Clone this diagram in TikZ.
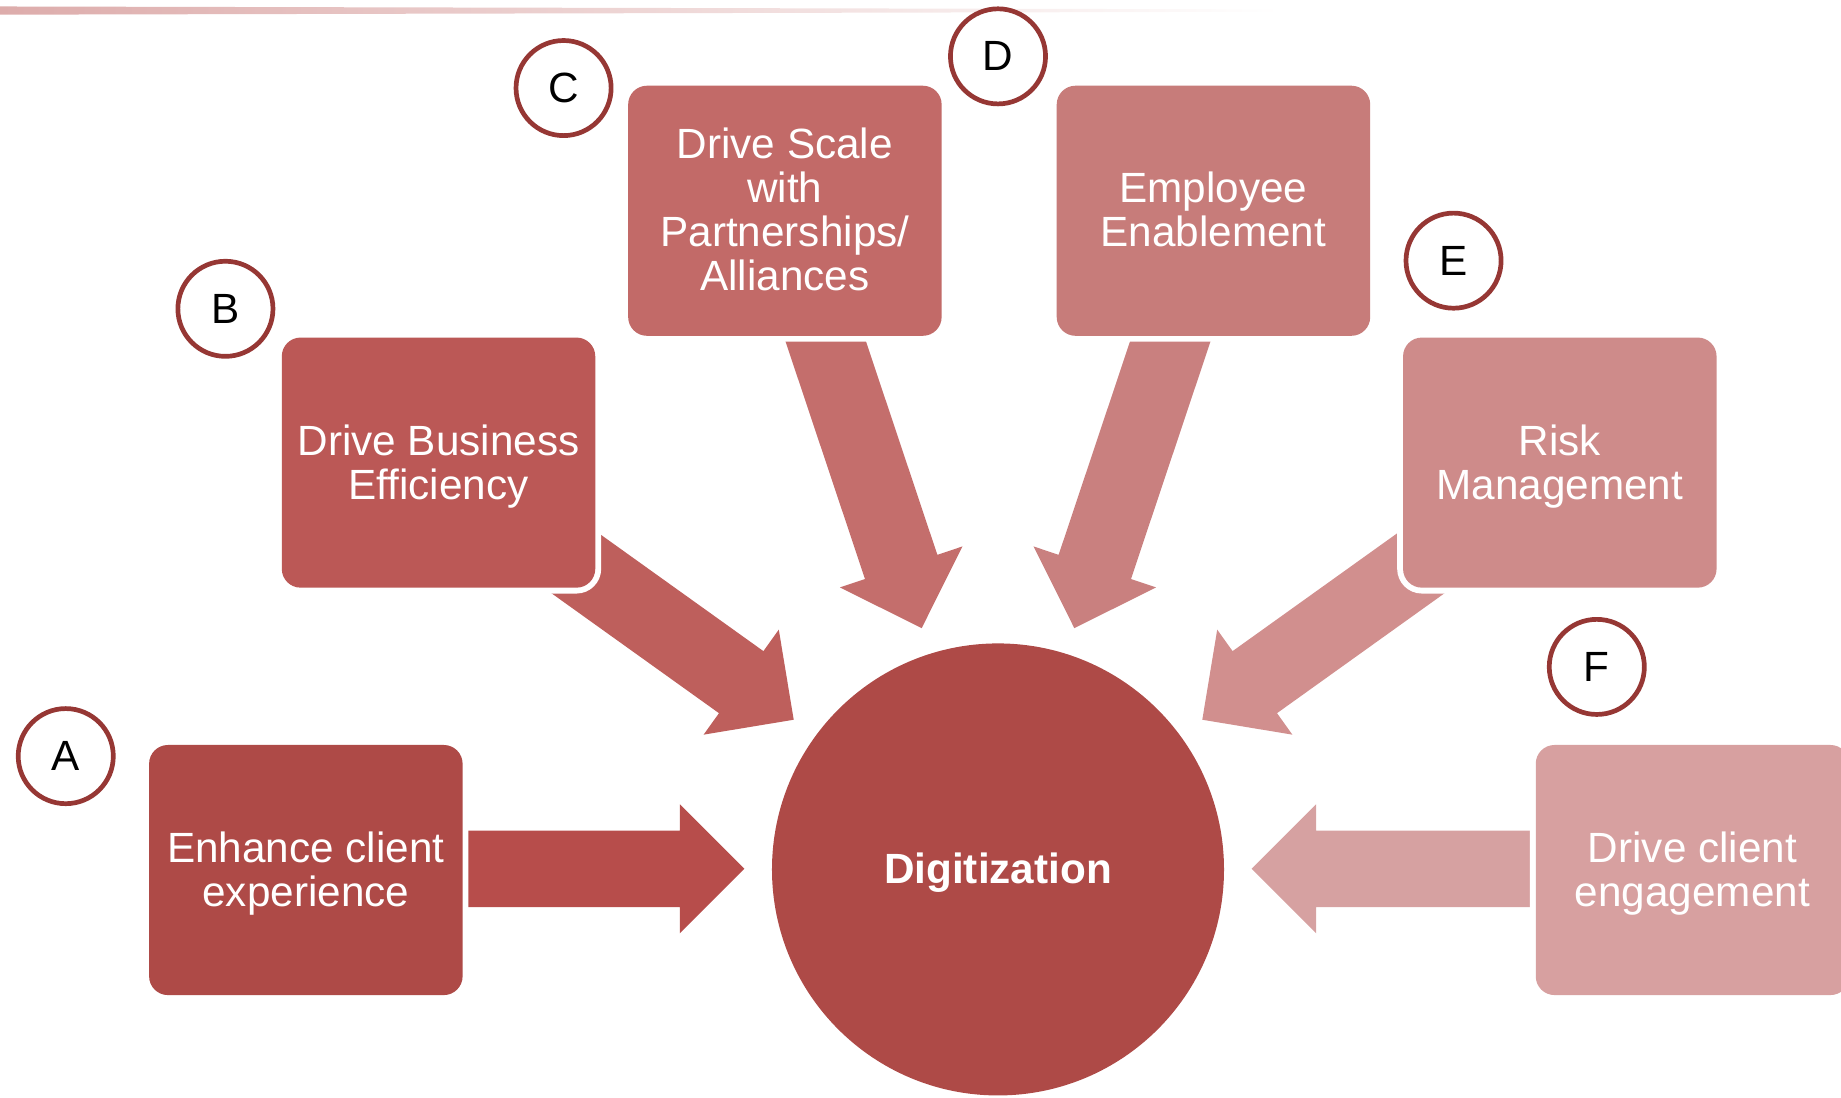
\documentclass[tikz,border=0pt]{standalone}
\usepackage{fontspec}
\setmainfont{Liberation Sans}

% palette, darkest (A) to lightest (F)
\definecolor{boxA}{RGB}{174,74,71}
\definecolor{boxB}{RGB}{187,88,86}
\definecolor{boxC}{RGB}{194,106,104}
\definecolor{boxD}{RGB}{199,124,122}
\definecolor{boxE}{RGB}{206,139,138}
\definecolor{boxF}{RGB}{215,160,160}
\definecolor{arrA}{RGB}{183,77,75}
\definecolor{arrB}{RGB}{190,95,92}
\definecolor{arrC}{RGB}{196,110,108}
\definecolor{arrD}{RGB}{201,128,127}
\definecolor{arrE}{RGB}{209,143,142}
\definecolor{arrF}{RGB}{214,161,161}
\definecolor{hub}{RGB}{174,74,71}
\definecolor{tagred}{RGB}{150,55,52}
\definecolor{rulepink}{RGB}{221,172,171}

% block arrow: #2 = tip, #3 = rotation, #4 = total length
\newcommand{\blockarrow}[4]{%
  \fill[#1, shift={(#2)}, rotate=#3]
    (0,0) -- (-55,55) -- (-55,32.5) -- (-#4,32.5) -- (-#4,-32.5)
    -- (-55,-32.5) -- (-55,-55) -- cycle;}

\tikzset{
  box/.style={rectangle, rounded corners=16pt, minimum width=267pt,
    minimum height=213pt, inner sep=0pt,
    preaction={draw=white, line width=10pt}},
  boxlabel/.style={inner sep=0pt, text=white, align=center,
    font=\fontsize{36}{37.5}\selectfont},
  tag/.style={circle, draw=tagred, line width=4pt, fill=white,
    minimum size=81pt, inner sep=0pt, font=\fontsize{36}{40}\selectfont},
  hubnode/.style={circle, fill=hub, minimum size=385pt, inner sep=0pt},
  hublabel/.style={inner sep=0pt, text=white,
    font=\bfseries\fontsize{36}{40}\selectfont},
}

\begin{document}
\begin{tikzpicture}[x=1pt, y=-1pt]
\useasboundingbox (0,0) rectangle (1568,935);
\clip (0,0) rectangle (1568,935);

% thin rule along the top
\shade[left color=rulepink, middle color=rulepink!85!white, right color=white]
  (0,5.5) -- (1090,8) -- (1090,10) -- (0,12.5) -- cycle;

% arrow tips
\coordinate (tipA) at (634,740);
\coordinate (tipB) at (676,613);
\coordinate (tipC) at (785,535);
\coordinate (tipD) at (915,535);
\coordinate (tipE) at (1024,613);
\coordinate (tipF) at (1066,740);

% block arrows (tails run under the boxes)
\blockarrow{arrA}{tipA}{0}{270}
\blockarrow{arrB}{tipB}{-35.6}{280}
\blockarrow{arrC}{tipC}{-71.5}{300}
\blockarrow{arrD}{tipD}{-108.5}{300}
\blockarrow{arrE}{tipE}{-144.4}{280}
\blockarrow{arrF}{tipF}{-180}{270}

% goal boxes
\node[box, fill=boxA] (enhance) at (260.5,741) {};
\node[box, fill=boxB] (efficiency) at (373.5,394) {};
\node[box, fill=boxC] (scale) at (668.5,179.5) {};
\node[box, fill=boxD] (employee) at (1033.5,179.5) {};
\node[box, fill=boxE] (risk) at (1328.5,394) {};
\node[box, fill=boxF] (engage) at (1441.5,741) {};

% box texts
\node[boxlabel] (enhanceT) at ([yshift=-3pt]enhance.center) {Enhance client\\experience};
\node[boxlabel] (efficiencyT) at ([yshift=-3pt]efficiency.center) {Drive Business\\Efficiency};
\node[boxlabel] (scaleT) at ([yshift=1pt]scale.center) {Drive Scale\\with\\Partnerships/\\Alliances};
\node[boxlabel] (employeeT) at ([yshift=1pt]employee.center) {Employee\\Enablement};
\node[boxlabel] (riskT) at ([yshift=-3pt]risk.center) {Risk\\Management};
\node[boxlabel] (engageT) at ([yshift=-3pt]engage.center) {Drive client\\engagement};

% letter tags
\node[tag] (tagA) at (56,644) {A};
\node[tag] (tagB) at (192,263) {B};
\node[tag] (tagC) at (480,75) {C};
\node[tag] (tagD) at (850,48) {D};
\node[tag] (tagE) at (1238,222) {E};
\node[tag] (tagF) at (1360,568) {F};

% central hub
\node[hubnode] (hub) at (850,740.5) {};
\node[hublabel] (hubT) at ([yshift=-3pt]hub.center) {Digitization};
\end{tikzpicture}
\end{document}
